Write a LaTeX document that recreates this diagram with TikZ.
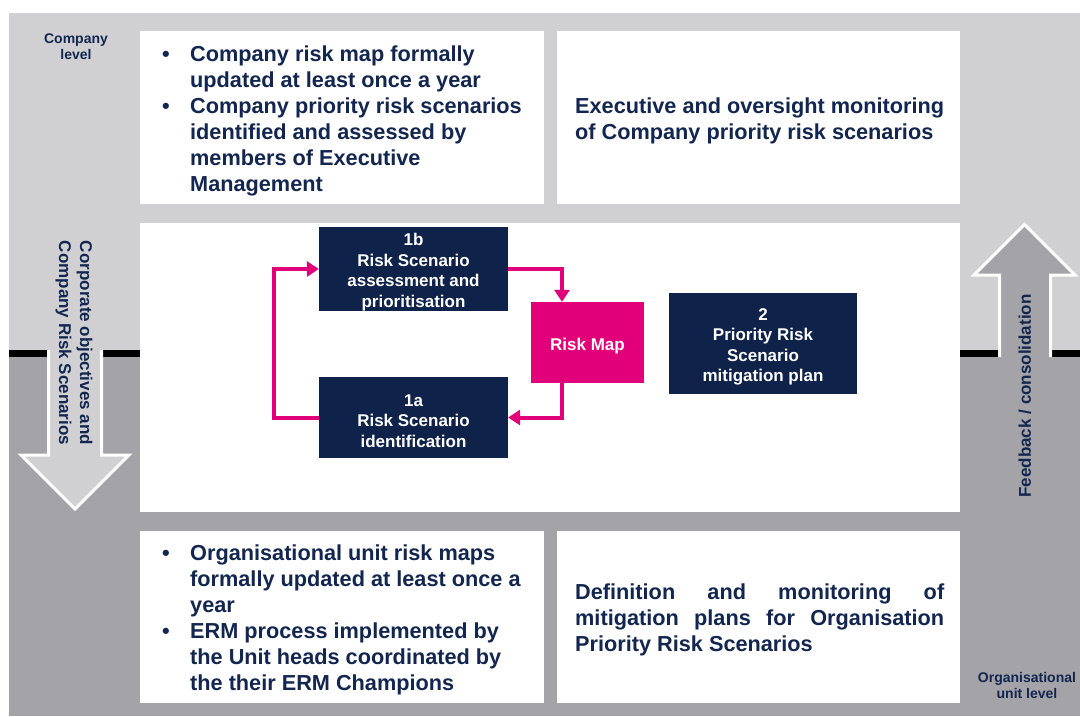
\documentclass[tikz,border=0pt]{standalone}
\usepackage{fontspec}
\setmainfont{Liberation Sans}
\usetikzlibrary{arrows.meta,calc}
\definecolor{navy}{HTML}{0F2249}
\definecolor{txtnavy}{HTML}{13264F}
\definecolor{pinkc}{HTML}{E2007A}
\definecolor{lgray}{HTML}{D0D0D3}
\definecolor{dgray}{HTML}{A3A3A8}
\tikzset{
  panel/.style={fill=white, draw=none, inner sep=0pt},
  ptext/.style={text=txtnavy, font=\bfseries\fontsize{21.7}{26}\selectfont, align=left, inner sep=0pt, anchor=west},
  stepbox/.style={fill=navy, text=white, font=\bfseries\fontsize{17}{20.5}\selectfont, align=center, inner sep=0pt},
  mapbox/.style={fill=pinkc, text=white, font=\bfseries\fontsize{17}{20.5}\selectfont, align=center, inner sep=0pt},
  flow/.style={draw=pinkc, line width=4pt, -{Triangle[width=15pt,length=12pt]}},
  lvl/.style={text=txtnavy, font=\bfseries\fontsize{14}{16}\selectfont, align=center, inner sep=0pt},
  rotlabel/.style={text=txtnavy, font=\bfseries\fontsize{17}{21}\selectfont, align=center, inner sep=0pt},
  outline/.style={draw=white, line width=3pt, line join=miter}
}
\newcommand{\bul}{\makebox[28pt][l]{•}}
\newcommand{\ind}{\hspace*{28pt}}
\newcommand{\tp}{\rule{0pt}{19pt}}
\begin{document}
\begin{tikzpicture}[x=1pt,y=-1pt]
\useasboundingbox (0,0) rectangle (1080,716);
\fill[white] (0,0) rectangle (1080,716);
% backgrounds
\fill[lgray] (9,13) rectangle (1080,350);
\fill[dgray] (9,350) rectangle (1080,716);
\fill[black] (9,350) rectangle (1080,357);
% big arrows
\fill[lgray] (48.5,350) -- (48.5,455) -- (21,455) -- (75,509) -- (129,455) -- (101.5,455) -- (101.5,350) -- cycle;
\draw[outline] (48.5,350) -- (48.5,455) -- (21,455) -- (75,509) -- (129,455) -- (101.5,455) -- (101.5,350);
\fill[dgray] (999.5,357) -- (999.5,275) -- (974,275) -- (1024.5,224.5) -- (1075,275) -- (1050.5,275) -- (1050.5,357) -- cycle;
\draw[outline] (999.5,357) -- (999.5,275) -- (974,275) -- (1024.5,224.5) -- (1075,275) -- (1050.5,275) -- (1050.5,357);
% panels
\node[panel, minimum width=404pt, minimum height=173pt] (tl) at (342,117.5) {};
\node[panel, minimum width=403pt, minimum height=173pt] (tr) at (758.5,117.5) {};
\node[panel, minimum width=820pt, minimum height=289pt] (mid) at (550,367.5) {};
\node[panel, minimum width=404pt, minimum height=172pt] (bl) at (342,617) {};
\node[panel, minimum width=403pt, minimum height=172pt] (br) at (758.5,617) {};
% panel texts
\node[ptext] (tlt) at (162,120.5) {\bul Company risk map formally\\\ind updated at least once a year\\\bul Company priority risk scenarios\\\ind identified and assessed by\\\ind members of Executive\\\ind Management};
\node[ptext] (trt) at (575,120.5) {Executive and oversight monitoring\\of Company priority risk scenarios};
\node[ptext] (blt) at (162,620) {\bul Organisational unit risk maps\\\ind formally updated at least once a\\\ind year\\\bul ERM process implemented by\\\ind the Unit heads coordinated by\\\ind the their ERM Champions};
\node[ptext] (brt) at (575,620) {\makebox[369pt][s]{Definition and monitoring of}\\\makebox[369pt][s]{mitigation plans for Organisation}\\Priority Risk Scenarios};
% level labels
\node[lvl] (cl) at (76,46.5) {Company\\level};
\node[lvl] (ol) at (1027,685.5) {Organisational\\unit level};
% rotated labels
\node[rotlabel, rotate=-90] (corp) at (74,343) {Corporate objectives and\\Company Risk Scenarios};
\node[rotlabel, rotate=90] (fb) at (1025,396) {Feedback / consolidation};
% process boxes
\node[stepbox, minimum width=189pt, minimum height=82pt] (b1) at (413.5,269) {\tp 1b\\Risk Scenario\\assessment and\\prioritisation};
\node[stepbox, minimum width=189pt, minimum height=81pt] (a1) at (413.5,417.5) {\tp 1a\\Risk Scenario\\identification};
\node[mapbox, minimum width=113pt, minimum height=81pt] (map) at (587.5,342.5) {\tp Risk Map};
\node[stepbox, minimum width=188pt, minimum height=101pt] (p2) at (763,343.5) {\tp 2\\Priority Risk\\Scenario\\mitigation plan};
% flow arrows
\draw[flow] (b1.east) -| ([xshift=-25.5pt]map.north);
\draw[flow] ([xshift=-25.5pt]map.south) |- (a1.east);
\draw[flow] (a1.west) -- ++(-45,0) |- (b1.west);
\end{tikzpicture}
\end{document}
